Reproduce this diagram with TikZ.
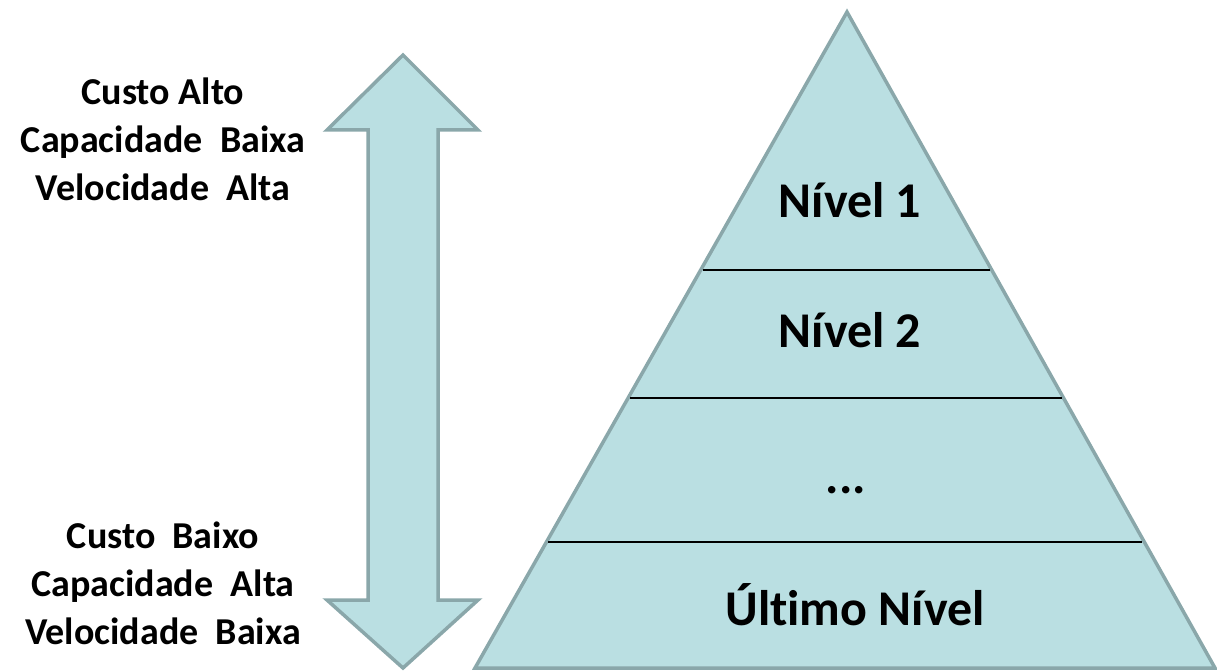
\documentclass[tikz,border=0pt]{standalone}
\usepackage{fontspec}
\setmainfont{Carlito}[Ligatures=NoCommon]
\usetikzlibrary{calc}
\definecolor{fillc}{HTML}{BADFE2}
\definecolor{edgec}{HTML}{8AA7AA}
\tikzset{
  shapestyle/.style={fill=fillc, draw=edgec, line width=3.5pt, line join=miter},
  sidetext/.style={align=center, font=\bfseries\fontsize{38}{48}\selectfont, inner sep=0pt},
  leveltext/.style={font=\bfseries\fontsize{50}{60}\selectfont, inner sep=0pt},
  divider/.style={draw=black, line width=2.5pt}
}
\begin{document}
\begin{tikzpicture}[x=1pt,y=-1pt]
\useasboundingbox (0,0) rectangle (1217,671);
% double arrow
\draw[shapestyle] (403,55) -- (478,130) -- (438,130) -- (438,600) -- (478,600) -- (403,668)
  -- (327,600) -- (368,600) -- (368,130) -- (327,130) -- cycle;
% pyramid
\coordinate (apex) at (847,12);
\coordinate (bl) at (475,668);
\coordinate (br) at (1215,668);
\draw[shapestyle] (apex) -- (br) -- (bl) -- cycle;
\draw[divider] ($(apex)!0.3933!(bl)+(2,0)$) -- ($(apex)!0.3933!(br)+(-2,0)$);
\draw[divider] ($(apex)!0.5884!(bl)+(2,0)$) -- ($(apex)!0.5884!(br)+(-2,0)$);
\draw[divider] ($(apex)!0.8079!(bl)+(2,0)$) -- ($(apex)!0.8079!(br)+(-2,0)$);
% level labels
\node[leveltext] (l1) at (850,200) {Nível 1};
\node[leveltext] (l2) at (850,330) {Nível 2};
\node[leveltext] (l3) at (846,490) {...};
\node[leveltext] (l4) at (855,605) {Último Nível};
% side labels
\node[sidetext] (top) at (163,139) {Custo Alto\\Capacidade\ \ Baixa\\Velocidade\ \ Alta};
\node[sidetext] (bot) at (163,583) {Custo\ \ Baixo\\Capacidade\ \ Alta\\Velocidade\ \ Baixa};
\end{tikzpicture}
\end{document}
